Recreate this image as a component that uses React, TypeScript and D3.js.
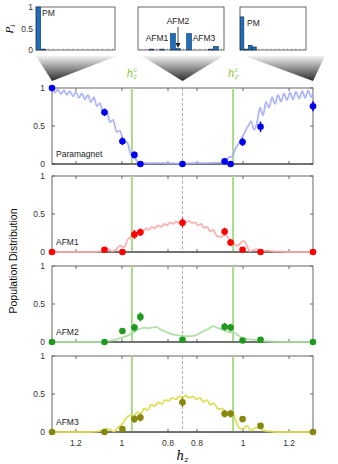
import React from "react";
import * as d3 from "d3";

const HMIN = 0.737;
const HMAX = 1.304;
const HC = 0.957;
const xTickHz = [1.2, 1.0, 0.8];
const yTicks = [0, 0.5, 1];

// measured points along the sweep (branch 0 = down-sweep, 1 = up-sweep)
const measHz = [1.304, 1.076, 0.998, 0.946, 0.92, 0.737, 0.92, 0.946, 0.998, 1.076, 1.304];
const measBranch = [0, 0, 0, 0, 0, 0, 1, 1, 1, 1, 1];

const pmVals = [1.0, 0.68, 0.3, 0.12, 0.0, 0.0, 0.035, 0.0, 0.29, 0.49, 0.76];
const pmErr = [0, 0.05, 0.05, 0.045, 0, 0, 0.02, 0, 0.055, 0.07, 0.065];
const afm1Vals = [0, 0.03, 0, 0.23, 0.26, 0.385, 0.27, 0.125, 0.03, 0, 0];
const afm1Err = [0, 0, 0, 0.06, 0.05, 0.06, 0.05, 0.045, 0, 0, 0];
const afm2Vals = [0, 0, 0.145, 0.19, 0.33, 0.03, 0.2, 0.19, 0.02, 0.03, 0];
const afm2Err = [0, 0, 0.04, 0.05, 0.06, 0, 0.05, 0.05, 0, 0, 0];
const afm3Vals = [0, 0, 0.04, 0.17, 0.19, 0.39, 0.24, 0.24, 0.17, 0.08, 0];
const afm3Err = [0, 0, 0, 0.05, 0.05, 0.06, 0.05, 0.05, 0.04, 0.03, 0];

// simulated curves [hz, population]
const pmDown: [number, number][] = [[1.304,0.99],[1.291,0.94],[1.278,0.98],[1.265,0.92],[1.252,0.97],[1.239,0.91],[1.226,0.96],[1.213,0.89],[1.2,0.95],[1.187,0.87],[1.174,0.93],[1.161,0.85],[1.148,0.91],[1.135,0.81],[1.122,0.88],[1.109,0.76],[1.096,0.8],[1.08,0.66],[1.067,0.7],[1.052,0.55],[1.039,0.58],[1.022,0.42],[1.009,0.44],[0.991,0.28],[0.978,0.29],[0.961,0.12],[0.948,0.1],[0.93,0.02],[0.913,0.015],[0.878,0.01],[0.835,0.012],[0.791,0.008],[0.737,0.005]];
const pmUp: [number, number][] = [[0.737,0.005],[0.791,0.01],[0.835,0.012],[0.878,0.015],[0.909,0.02],[0.926,0.05],[0.939,0.09],[0.952,0.1],[0.97,0.22],[0.987,0.3],[1.004,0.4],[1.022,0.5],[1.035,0.56],[1.048,0.45],[1.061,0.55],[1.074,0.74],[1.087,0.64],[1.1,0.82],[1.113,0.74],[1.126,0.88],[1.139,0.79],[1.152,0.91],[1.165,0.82],[1.178,0.93],[1.191,0.84],[1.204,0.94],[1.217,0.85],[1.23,0.95],[1.244,0.86],[1.257,0.96],[1.27,0.87],[1.283,0.97],[1.296,0.88],[1.304,0.93]];
const afm1Down: [number, number][] = [[1.304,0],[1.117,0],[1.096,0.005],[1.078,0.035],[1.061,0.045],[1.044,0.01],[1.026,0.03],[1.009,0.085],[0.991,0.06],[0.974,0.17],[0.961,0.2],[0.948,0.27],[0.935,0.25],[0.922,0.29],[0.909,0.27],[0.896,0.31],[0.883,0.29],[0.87,0.33],[0.857,0.31],[0.844,0.35],[0.83,0.33],[0.817,0.37],[0.804,0.35],[0.791,0.39],[0.778,0.37],[0.765,0.4],[0.752,0.38],[0.737,0.41]];
const afm1Up: [number, number][] = [[0.737,0.41],[0.752,0.39],[0.765,0.41],[0.778,0.38],[0.791,0.39],[0.804,0.35],[0.817,0.37],[0.83,0.32],[0.844,0.33],[0.857,0.27],[0.87,0.29],[0.887,0.21],[0.904,0.2],[0.922,0.23],[0.939,0.17],[0.957,0.12],[0.974,0.08],[0.991,0.12],[1.004,0.15],[1.017,0.08],[1.03,0.01],[1.048,0.03],[1.065,0.035],[1.083,0.01],[1.1,0.02],[1.126,0.01],[1.161,0.005],[1.204,0],[1.304,0]];
const afm2Down: [number, number][] = [[1.304,0],[1.096,0],[1.07,0.005],[1.044,0.02],[1.022,0.035],[0.996,0.06],[0.965,0.1],[0.939,0.15],[0.917,0.18],[0.9,0.19],[0.883,0.18],[0.87,0.19],[0.852,0.2],[0.835,0.17],[0.813,0.14],[0.791,0.11],[0.765,0.09],[0.737,0.08]];
const afm2Up: [number, number][] = [[0.737,0.08],[0.761,0.075],[0.783,0.08],[0.804,0.1],[0.826,0.14],[0.848,0.17],[0.87,0.21],[0.887,0.19],[0.904,0.17],[0.922,0.15],[0.939,0.13],[0.957,0.13],[0.974,0.1],[0.991,0.06],[1.013,0.04],[1.039,0.03],[1.065,0.02],[1.096,0.01],[1.139,0.003],[1.204,0],[1.304,0]];
const afm3Down: [number, number][] = [[1.304,0],[1.139,0],[1.109,0.005],[1.087,0.02],[1.07,0.04],[1.052,0.03],[1.035,0.005],[1.017,0.06],[1.0,0.1],[0.983,0.18],[0.965,0.22],[0.952,0.18],[0.935,0.26],[0.917,0.24],[0.904,0.31],[0.887,0.29],[0.874,0.36],[0.857,0.34],[0.844,0.39],[0.826,0.37],[0.813,0.42],[0.796,0.41],[0.783,0.45],[0.765,0.43],[0.752,0.47],[0.737,0.45]];
const afm3Up: [number, number][] = [[0.737,0.45],[0.752,0.48],[0.765,0.45],[0.783,0.47],[0.796,0.43],[0.813,0.45],[0.826,0.4],[0.844,0.42],[0.857,0.36],[0.874,0.38],[0.891,0.3],[0.909,0.31],[0.926,0.25],[0.944,0.27],[0.961,0.22],[0.974,0.1],[0.987,0.04],[1.004,0.05],[1.017,0.08],[1.035,0.02],[1.052,0.05],[1.07,0.06],[1.087,0.02],[1.109,0.01],[1.139,0],[1.304,0]];

// inset histograms (16 states)
const insetStates = d3.range(16);
const inset1Vals = [1.0, 0.02, 0, 0, 0, 0, 0, 0, 0, 0, 0, 0, 0, 0, 0, 0];
const inset2Vals = [0, 0, 0.02, 0, 0.02, 0, 0.38, 0.03, 0, 0.38, 0, 0, 0, 0.02, 0.08, 0];
const inset3Vals = [0.77, 0.02, 0.11, 0.07, 0, 0, 0, 0, 0, 0, 0, 0, 0, 0, 0, 0];

const panelNames = ["Paramagnet", "AFM1", "AFM2", "AFM3"];
const panelTops = [88, 176, 266, 356];
const PH = 76;
const X0 = 52;
const X1 = 313;

const pointColors = ["#0000f0", "#ff0000", "#1f9a1f", "#85870f"];
const curveColors = ["#a7adf7", "#f8a9a9", "#a9dea0", "#dcdc4a"];

export default function App() {
  const half = HMAX - HMIN;
  const x = d3.scaleLinear().domain([-half, half]).range([X0, X1]);
  const sx = (hz: number, branch: number) => x(branch === 0 ? -(hz - HMIN) : hz - HMIN);

  const vals = [pmVals, afm1Vals, afm2Vals, afm3Vals];
  const errs = [pmErr, afm1Err, afm2Err, afm3Err];
  const curves: [[number, number][], [number, number][]][] = [
    [pmDown, pmUp],
    [afm1Down, afm1Up],
    [afm2Down, afm2Up],
    [afm3Down, afm3Up],
  ];

  const xTickList: { hz: number; branch: number }[] = [];
  xTickHz.forEach((h) => xTickList.push({ hz: h, branch: 0 }));
  xTickHz.forEach((h) => xTickList.push({ hz: h, branch: 1 }));

  const font = "Liberation Sans, Arial, sans-serif";

  const insets = [
    { x0: 36, x1: 115, vals: inset1Vals },
    { x0: 138, x1: 224, vals: inset2Vals },
    { x0: 240, x1: 306, vals: inset3Vals },
  ];
  const iy = d3.scaleLinear().domain([0, 1]).range([50, 7]);
  const apexX = [x(-half), x(0), x(half)];
  const triTops = [
    [36, 117],
    [142, 223],
    [245, 325],
  ];

  return (
    <svg
      width={338}
      height={464}
      style={{ position: "absolute", left: 0, top: 0, background: "#fff" }}
      fontFamily={font}
    >
      <defs>
        <linearGradient id="tri" x1="0" y1="0" x2="0" y2="1">
          <stop offset="0" stopColor="#f2f2f2" />
          <stop offset="1" stopColor="#2a2a2a" />
        </linearGradient>
      </defs>

      {/* triangles */}
      {triTops.map((t, i) => (
        <path
          key={"tri" + i}
          d={`M${t[0]},56 L${t[1]},56 L${apexX[i]},81 Z`}
          fill="url(#tri)"
        />
      ))}

      {/* insets */}
      {insets.map((ins, k) => {
        const bx = d3.scaleBand<number>().domain(insetStates).range([ins.x0, ins.x1]).paddingInner(0.12).paddingOuter(0.05);
        return (
          <g key={"inset" + k}>
            <rect x={ins.x0} y={7} width={ins.x1 - ins.x0} height={43} fill="#fff" stroke="#444" strokeWidth={0.8} />
            {insetStates.map((s) =>
              ins.vals[s] > 0 ? (
                <rect
                  key={s}
                  x={bx(s)}
                  y={iy(ins.vals[s])}
                  width={bx.bandwidth()}
                  height={iy(0) - iy(ins.vals[s])}
                  fill="#1a6fc0"
                  stroke="#0b2a4a"
                  strokeWidth={0.6}
                />
              ) : null
            )}
            {insetStates.map((s) => (
              <line key={"t" + s} x1={(bx(s) as number) + bx.bandwidth() / 2} x2={(bx(s) as number) + bx.bandwidth() / 2} y1={50} y2={48.5} stroke="#666" strokeWidth={0.5} />
            ))}
          </g>
        );
      })}
      {yTicks.map((t) => (
        <text key={"iyt" + t} x={33} y={iy(t) + 3} fontSize={8.5} fill="#333" textAnchor="end">
          {t}
        </text>
      ))}
      <text transform="translate(13,29) rotate(-90)" fontSize={10} fontStyle="italic" fontFamily="DejaVu Serif, serif" textAnchor="middle">
        P<tspan fontSize={7} dy={2}>i</tspan>
      </text>
      <text x={42} y={16} fontSize={8.5} fill="#222">PM</text>
      <text x={247} y={26} fontSize={8.5} fill="#222">PM</text>
      <text x={157} y={41} fontSize={8.5} fill="#222" textAnchor="middle">AFM1</text>
      <text x={178} y={24} fontSize={8.5} fill="#222" textAnchor="middle">AFM2</text>
      <text x={204} y={41} fontSize={8.5} fill="#222" textAnchor="middle">AFM3</text>
      <line x1={178} x2={178} y1={27} y2={44} stroke="#222" strokeWidth={0.8} />
      <path d="M175.5,43 L180.5,43 L178,48 Z" fill="#222" />

      {/* hz^c labels */}
      {[0, 1].map((b) => (
        <text key={"hc" + b} x={sx(HC, b)} y={77} fill="#8cc63f" fontSize={11} fontStyle="italic" fontFamily="DejaVu Serif, serif" textAnchor="middle">
          h<tspan fontSize={7} dy={2}>z</tspan>
          <tspan fontSize={7} dx={-4} dy={-7}>c</tspan>
        </text>
      ))}

      {/* panels */}
      {panelTops.map((top, p) => {
        const y = d3.scaleLinear().domain([0, 1]).range([top + PH, top]);
        const pts: [number, number][] = [
          ...curves[p][0].map((d) => [sx(d[0], 0), y(d[1])] as [number, number]),
          ...curves[p][1].slice(1).map((d) => [sx(d[0], 1), y(d[1])] as [number, number]),
        ];
        const line = d3.line().curve(d3.curveMonotoneX)(pts) || "";
        return (
          <g key={"panel" + p}>
            <rect x={X0} y={top} width={X1 - X0} height={PH} fill="none" stroke="#666" strokeWidth={1} />
            {/* x ticks */}
            {xTickList.map((t, i) => (
              <g key={"xt" + i}>
                <line x1={sx(t.hz, t.branch)} x2={sx(t.hz, t.branch)} y1={top + PH} y2={top + PH - 3} stroke="#666" />
                <line x1={sx(t.hz, t.branch)} x2={sx(t.hz, t.branch)} y1={top} y2={top + 3} stroke="#666" />
              </g>
            ))}
            {yTicks.map((t) => (
              <g key={"yt" + t}>
                <line x1={X0} x2={X0 + 3} y1={y(t)} y2={y(t)} stroke="#666" />
                <line x1={X1} x2={X1 - 3} y1={y(t)} y2={y(t)} stroke="#666" />
                <text x={45} y={y(t) + 3} fontSize={8.5} fill="#333" textAnchor="end">
                  {t}
                </text>
              </g>
            ))}
            {/* critical field lines */}
            {[0, 1].map((b) => (
              <line key={"g" + b} x1={sx(HC, b)} x2={sx(HC, b)} y1={top} y2={top + PH} stroke="#a6d98a" strokeWidth={2} />
            ))}
            <line x1={x(0)} x2={x(0)} y1={top} y2={top + PH} stroke="#999" strokeWidth={0.8} strokeDasharray="3,2" />
            <line x1={X0} x2={X1} y1={top + PH} y2={top + PH} stroke="#333" strokeWidth={1} />
            <path d={line} fill="none" stroke={curveColors[p]} strokeWidth={1.8} strokeOpacity={0.9} />
            {measHz.map((h, i) => {
              const cx = sx(h, measBranch[i]);
              const v = vals[p][i];
              const e = errs[p][i];
              return (
                <g key={"pt" + i}>
                  {e > 0 && (
                    <line x1={cx} x2={cx} y1={y(v - e)} y2={y(v + e)} stroke={pointColors[p]} strokeWidth={1.5} />
                  )}
                  <circle cx={cx} cy={y(v)} r={3.3} fill={pointColors[p]} />
                </g>
              );
            })}
            <text x={56} y={top + PH - 7} fontSize={8.5} fill="#222">
              {panelNames[p]}
            </text>
          </g>
        );
      })}

      {/* x tick labels */}
      {xTickList.map((t, i) => (
        <text key={"xl" + i} x={sx(t.hz, t.branch)} y={446} fontSize={8.5} fill="#333" textAnchor="middle">
          {t.hz === 1 ? "1" : t.hz.toFixed(1)}
        </text>
      ))}
      <text x={x(0)} y={460} fontSize={12} fontStyle="italic" fontFamily="DejaVu Serif, serif" textAnchor="middle">
        h<tspan fontSize={8} dy={2}>z</tspan>
      </text>
      <text transform="translate(17,261) rotate(-90)" fontSize={10.5} fill="#111" textAnchor="middle">
        Population Distribution
      </text>
    </svg>
  );
}
